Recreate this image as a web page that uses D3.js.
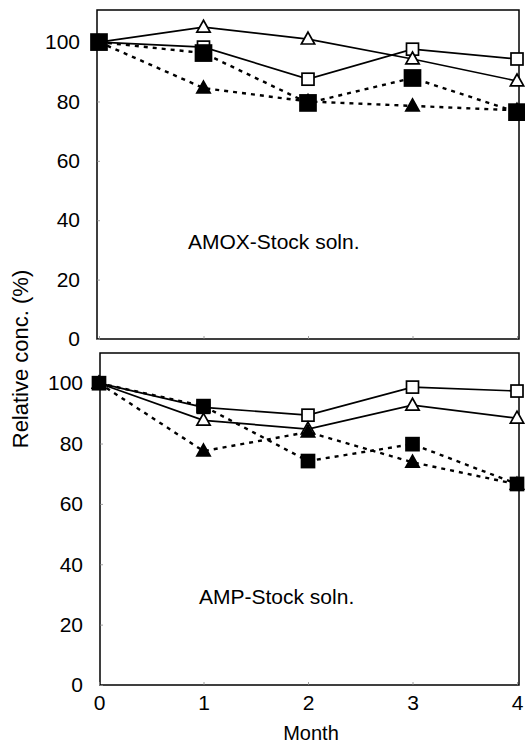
<!DOCTYPE html>
<html><head><meta charset="utf-8">
<script src="https://cdn.jsdelivr.net/npm/d3@7"></script>
<style>body{margin:0;background:#fff}svg{display:block}text{font-family:"Liberation Sans",Arial,sans-serif;fill:#000}</style>
</head><body><svg id="c" width="525" height="745"></svg>
<script>
const months = [0, 1, 2, 3, 4];
const yTicks = [0, 20, 40, 60, 80, 100];
// AMOX stock solution
const amoxOpenSquare = [100, 98.3, 87.5, 97.6, 94.3];
const amoxOpenTriangle = [100, 105, 101, 94.3, 86.9];
const amoxFilledSquare = [100, 96.3, 79.5, 87.9, 76.4];
const amoxFilledTriangle = [100, 84.5, 80, 78.5, 77];
// AMP stock solution
const ampOpenSquare = [100, 92, 89.4, 98.7, 97.4];
const ampOpenTriangle = [100, 87.7, 84.8, 92.7, 88.4];
const ampFilledSquare = [100, 92.4, 74.2, 79.8, 66.6];
const ampFilledTriangle = [100, 77.5, 83.8, 73.8, 66.5];

const svg = d3.select("#c");
const x = d3.scaleLinear().domain([0, 4]).range([99, 517]);

function panel(cfg) {
  const y = d3.scaleLinear().domain([0, cfg.ymax]).range([cfg.bottom, cfg.top]);
  const g = svg.append("g");
  g.append("rect").attr("x", cfg.left).attr("y", cfg.top)
    .attr("width", 519 - cfg.left).attr("height", cfg.bottom - cfg.top)
    .attr("fill", "none").attr("stroke", "#000").attr("stroke-width", 1.5);
  const ya = d3.axisLeft(y).tickValues(yTicks).tickSize(-3).tickPadding(17);
  const yg = g.append("g").attr("transform", `translate(${cfg.left},0)`).call(ya);
  yg.select(".domain").remove();
  yg.selectAll("line").attr("stroke", "#888").attr("stroke-width", 0.8);
  yg.selectAll("text").style("font-size", "21px").attr("font-family", '"Liberation Sans",Arial,sans-serif');
  const xa = d3.axisBottom(x).tickValues(months).tickSize(-3).tickFormat(cfg.showX ? d3.format("d") : "").tickPadding(10);
  const xg = g.append("g").attr("transform", `translate(0,${cfg.bottom})`).call(xa);
  xg.select(".domain").remove();
  xg.selectAll("line").attr("stroke", "#888").attr("stroke-width", 0.8);
  xg.selectAll("text").style("font-size", "21px").attr("font-family", '"Liberation Sans",Arial,sans-serif');

  const line = d3.line().x((d, i) => x(months[i])).y(d => y(d));
  const series = cfg.series;
  series.filter(s => s.dash).forEach(s => {
    g.append("path").datum(s.values).attr("d", line).attr("fill", "none")
      .attr("stroke", "#000").attr("stroke-width", 2.4).attr("stroke-dasharray", "4,5");
  });
  series.filter(s => !s.dash).forEach(s => {
    g.append("path").datum(s.values).attr("d", line).attr("fill", "none")
      .attr("stroke", "#000").attr("stroke-width", 1.7);
  });
  const ordered = series.filter(s => !s.filled).concat(series.filter(s => s.filled));
  ordered.forEach(s => {
    s.values.forEach((v, i) => {
      const cx = x(months[i]), cy = y(v);
      if (s.shape === "square") {
        const sz = s.filled ? cfg.fsq : 12;
        g.append("rect").attr("x", cx - sz / 2).attr("y", cy - sz / 2)
          .attr("width", sz).attr("height", sz)
          .attr("fill", s.filled ? "#000" : "#fff").attr("stroke", "#000").attr("stroke-width", 1.7);
      } else {
        const r = 7;
        const pts = [[cx, cy - r], [cx + r * 0.95, cy + r * 0.7], [cx - r * 0.95, cy + r * 0.7]];
        g.append("path").attr("d", "M" + pts.map(p => p.join(",")).join("L") + "Z")
          .attr("fill", s.filled ? "#000" : "#fff").attr("stroke", "#000").attr("stroke-width", 1.7);
      }
    });
  });
  g.append("text").attr("x", cfg.labelX).attr("y", cfg.labelY).style("font-size", "21px").text(cfg.label);
}

panel({
  top: 10, bottom: 339, left: 97, ymax: 110.8, fsq: 16, showX: false,
  label: "AMOX-Stock soln.", labelX: 188, labelY: 249,
  series: [
    { values: amoxOpenSquare, shape: "square", filled: false, dash: false },
    { values: amoxOpenTriangle, shape: "tri", filled: false, dash: false },
    { values: amoxFilledTriangle, shape: "tri", filled: true, dash: true },
    { values: amoxFilledSquare, shape: "square", filled: true, dash: true }
  ]
});
panel({
  top: 353, bottom: 685, left: 100, ymax: 110, fsq: 13, showX: true,
  label: "AMP-Stock soln.", labelX: 199, labelY: 604,
  series: [
    { values: ampOpenSquare, shape: "square", filled: false, dash: false },
    { values: ampOpenTriangle, shape: "tri", filled: false, dash: false },
    { values: ampFilledTriangle, shape: "tri", filled: true, dash: true },
    { values: ampFilledSquare, shape: "square", filled: true, dash: true }
  ]
});

svg.append("text").attr("x", 311).attr("y", 740).attr("text-anchor", "middle")
  .style("font-size", "20px").text("Month");
svg.append("text").attr("transform", "translate(28,359) rotate(-90)").attr("text-anchor", "middle")
  .style("font-size", "22px").text("Relative conc. (%)");
</script></body></html>
